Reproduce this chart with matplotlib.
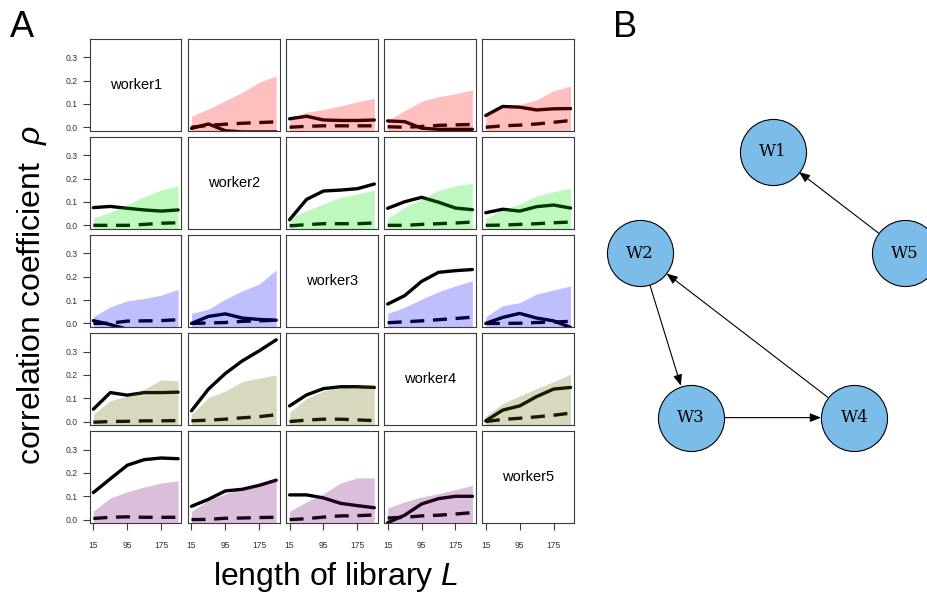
import numpy as np
import matplotlib.pyplot as plt

plt.rcParams["font.family"] = ["Liberation Sans", "DejaVu Sans"]
plt.rcParams["mathtext.fontset"] = "custom"
plt.rcParams["mathtext.rm"] = "Liberation Sans"
plt.rcParams["mathtext.it"] = "Liberation Sans:italic"

# library lengths used for the cross-mapping
lib_len = [15, 55, 95, 135, 175, 215]
workers = ["worker1", "worker2", "worker3", "worker4", "worker5"]

# observed cross-map skill, row = target worker, column = source worker
rho = [
    [None,
     [-0.005, 0.014, -0.015, -0.02, -0.02, -0.02],
     [0.036, 0.047, 0.031, 0.029, 0.029, 0.031],
     [0.027, 0.024, -0.004, -0.009, -0.009, -0.009],
     [0.05, 0.089, 0.086, 0.074, 0.079, 0.08]],
    [[0.076, 0.081, 0.073, 0.066, 0.061, 0.066],
     None,
     [0.024, 0.111, 0.147, 0.151, 0.157, 0.177],
     [0.073, 0.101, 0.12, 0.099, 0.074, 0.067],
     [0.054, 0.069, 0.061, 0.08, 0.087, 0.074]],
    [[0.012, -0.005, -0.025, -0.03, -0.03, -0.03],
     [0.0, 0.03, 0.041, 0.023, 0.017, 0.014],
     None,
     [0.083, 0.119, 0.18, 0.219, 0.226, 0.231],
     [0.0, 0.026, 0.043, 0.023, 0.011, -0.017]],
    [[0.053, 0.124, 0.113, 0.124, 0.124, 0.126],
     [0.046, 0.139, 0.206, 0.26, 0.303, 0.35],
     [0.067, 0.114, 0.141, 0.149, 0.149, 0.146],
     None,
     [0.003, 0.049, 0.067, 0.107, 0.139, 0.146]],
    [[0.116, 0.175, 0.233, 0.257, 0.264, 0.261],
     [0.057, 0.087, 0.123, 0.13, 0.147, 0.169],
     [0.106, 0.106, 0.093, 0.07, 0.06, 0.051],
     [-0.013, 0.019, 0.067, 0.09, 0.1, 0.1],
     None],
]

# mean of the surrogate (null) distribution
null_mean = [
    [None,
     [0.0, 0.008, 0.013, 0.017, 0.02, 0.023],
     [0.0, 0.004, 0.006, 0.006, 0.006, 0.006],
     [0.002, 0.0, 0.003, 0.008, 0.01, 0.012],
     [0.0, 0.006, 0.009, 0.014, 0.021, 0.029]],
    [[0.0, 0.0, 0.0, 0.004, 0.009, 0.011],
     None,
     [-0.002, 0.003, 0.007, 0.007, 0.007, 0.01],
     [0.0, 0.0, 0.004, 0.007, 0.01, 0.014],
     [0.0, 0.001, 0.004, 0.007, 0.011, 0.014]],
    [[0.0, 0.001, 0.01, 0.011, 0.012, 0.016],
     [0.0, 0.002, 0.004, 0.009, 0.011, 0.014],
     None,
     [0.003, 0.007, 0.011, 0.016, 0.021, 0.027],
     [0.0, 0.0, 0.001, 0.004, 0.006, 0.009]],
    [[-0.003, 0.0, 0.001, 0.003, 0.003, 0.004],
     [0.003, 0.006, 0.01, 0.016, 0.021, 0.029],
     [0.0, 0.006, 0.01, 0.01, 0.007, 0.004],
     None,
     [0.0, 0.009, 0.014, 0.02, 0.027, 0.036]],
    [[0.005, 0.01, 0.012, 0.01, 0.01, 0.01],
     [0.0, 0.001, 0.006, 0.007, 0.009, 0.01],
     [0.0, 0.004, 0.011, 0.016, 0.017, 0.02],
     [0.007, 0.01, 0.016, 0.019, 0.024, 0.03],
     None],
]

# upper bound of the surrogate band
null_upper = [
    [None,
     [0.047, 0.079, 0.114, 0.15, 0.193, 0.22],
     [0.036, 0.064, 0.076, 0.091, 0.109, 0.124],
     [0.029, 0.071, 0.111, 0.131, 0.143, 0.16],
     [0.057, 0.089, 0.097, 0.117, 0.157, 0.176]],
    [[0.031, 0.056, 0.089, 0.124, 0.151, 0.17],
     None,
     [0.031, 0.063, 0.091, 0.12, 0.134, 0.151],
     [0.031, 0.077, 0.113, 0.149, 0.17, 0.18],
     [0.031, 0.066, 0.091, 0.127, 0.144, 0.16]],
    [[0.029, 0.071, 0.097, 0.107, 0.121, 0.146],
     [0.043, 0.061, 0.104, 0.14, 0.169, 0.229],
     None,
     [0.043, 0.069, 0.104, 0.136, 0.161, 0.183],
     [0.029, 0.076, 0.089, 0.126, 0.143, 0.161]],
    [[0.031, 0.089, 0.11, 0.139, 0.179, 0.174],
     [0.031, 0.103, 0.131, 0.171, 0.186, 0.2],
     [0.039, 0.099, 0.131, 0.146, 0.153, 0.16],
     None,
     [0.024, 0.077, 0.11, 0.141, 0.171, 0.203]],
    [[0.037, 0.093, 0.119, 0.14, 0.157, 0.167],
     [0.036, 0.083, 0.111, 0.133, 0.154, 0.176],
     [0.036, 0.076, 0.111, 0.157, 0.179, 0.179],
     [0.05, 0.076, 0.097, 0.111, 0.129, 0.147],
     None],
]

row_colors = ["#ff0000", "#00e600", "#0000ff", "#666600", "#6b006b"]

# causal network between workers
nodes = ["W1", "W2", "W3", "W4", "W5"]
edges = [("W5", "W1"), ("W2", "W3"), ("W3", "W4"), ("W4", "W2")]


def main():
    fig = plt.figure(figsize=(9.28, 6.05), dpi=100)
    W, H = 928.0, 605.0

    x0, y0 = 90.0, 39.0
    size, step = 91.5, 98.1
    box_col = "#3a3a3a"

    for i in range(5):
        for j in range(5):
            left = (x0 + step * j) / W
            bottom = 1 - (y0 + step * i + size) / H
            ax = fig.add_axes([left, bottom, size / W, size / H])
            ax.set_xlim(7, 223)
            ax.set_ylim(-0.014, 0.378)
            for sp in ax.spines.values():
                sp.set_color(box_col)
                sp.set_linewidth(0.8)
                sp.set_zorder(4)

            if i == j:
                ax.text(0.5, 0.5, workers[i], transform=ax.transAxes,
                        ha="center", va="center", fontsize=10.5)
            else:
                # black lines first, the translucent band on top tints them
                ax.plot(lib_len, rho[i][j], color="black", lw=2.4,
                        solid_capstyle="round", solid_joinstyle="round",
                        zorder=2)
                ax.plot(lib_len, null_mean[i][j], color="black", lw=2.4,
                        dashes=(4.2, 2.6), dash_capstyle="butt", zorder=2)
                ax.fill_between(lib_len, -0.05, null_upper[i][j],
                                color=row_colors[i], alpha=0.25, lw=0,
                                zorder=3)

            ax.tick_params(colors=box_col, width=0.8, length=5,
                           labelsize=6.2, labelcolor="#333333")
            if j == 0:
                ax.set_yticks([0, 0.1, 0.2, 0.3])
                ax.set_yticklabels(["0.0", "0.1", "0.2", "0.3"])
                ax.tick_params(axis="y", pad=4)
            else:
                ax.set_yticks([])
            if i == 4:
                ax.set_xticks([15, 95, 175])
                ax.tick_params(axis="x", pad=8)
            else:
                ax.set_xticks([])

    fig.text(0.0345, 0.512, "correlation coefficient  $\\rho$", rotation=90,
             ha="center", va="center", fontsize=23)
    fig.text(0.362, 0.047, "length of library $L$", ha="center",
             va="center", fontsize=23)
    fig.text(10 / W, 1 - 37 / H, "A", fontsize=26, ha="left", va="baseline")
    fig.text(613 / W, 1 - 37 / H, "B", fontsize=26, ha="left", va="baseline")

    # network panel, nodes on a circle starting from the top
    gx = fig.add_axes([605.5 / W, 1 - 475.1 / H, 334 / W, 352.8 / H])
    gx.set_xlim(-1.2, 1.2)
    gx.set_ylim(-1.2, 1.2)
    gx.axis("off")
    ang = np.deg2rad(90 + 72 * np.arange(len(nodes)))
    pos = {n: (np.cos(a), np.sin(a)) for n, a in zip(nodes, ang)}

    for src, dst in edges:
        gx.annotate("", xy=pos[dst], xytext=pos[src],
                    arrowprops=dict(arrowstyle="-|>,head_length=0.55,head_width=0.22",
                                    color="black", lw=0.8, shrinkA=24, shrinkB=24,
                                    mutation_scale=12), zorder=1)
    xs = [pos[n][0] for n in nodes]
    ys = [pos[n][1] for n in nodes]
    gx.scatter(xs, ys, s=2265, color="#7bbde8", edgecolors="black",
               linewidths=0.8, zorder=2, clip_on=False)
    for n in nodes:
        gx.text(pos[n][0], pos[n][1], n, ha="center", va="center",
                fontsize=12, family="DejaVu Serif", zorder=3)

    fig.savefig("out.png", dpi=100)


if __name__ == "__main__":
    main()
